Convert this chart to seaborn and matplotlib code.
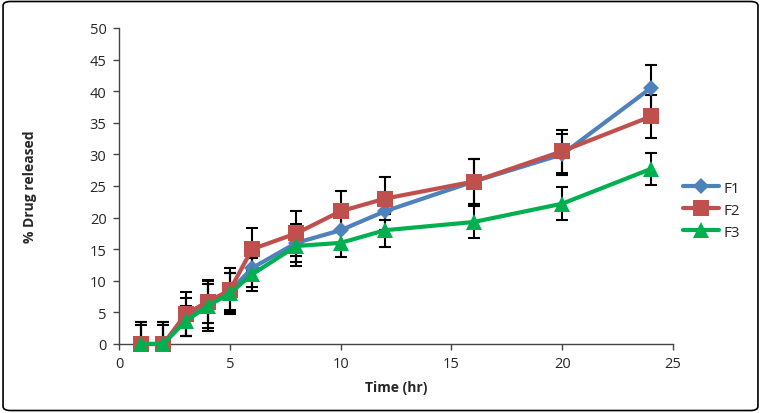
import matplotlib
matplotlib.use("Agg")
import matplotlib.pyplot as plt
import seaborn as sns
import pandas as pd
from matplotlib.patches import FancyBboxPatch

time_hr = [1, 2, 3, 4, 5, 6, 8, 10, 12, 16, 20, 24]
f1 = [0, 0, 4.3, 6.0, 8.3, 12.0, 16.0, 18.0, 21.0, 25.7, 30.0, 40.5]
f2 = [0, 0, 4.7, 6.7, 8.5, 15.0, 17.5, 21.0, 23.0, 25.7, 30.5, 36.0]
f3 = [0, 0, 3.6, 6.0, 8.0, 11.0, 15.5, 16.0, 18.0, 19.3, 22.2, 27.7]
f1_err = [3.5, 3.5, 3.0, 3.5, 3.0, 3.0, 3.0, 3.0, 3.0, 3.6, 3.3, 3.7]
f2_err = [3.5, 3.5, 3.5, 3.4, 3.5, 3.4, 3.5, 3.2, 3.4, 3.6, 3.4, 3.4]
f3_err = [3.0, 3.0, 2.4, 3.9, 3.3, 2.6, 3.2, 2.2, 2.6, 2.5, 2.6, 2.5]
series = ["F1", "F2", "F3"]
colors = {"F1": "#4F81BD", "F2": "#C0504D", "F3": "#00B050"}
markers = {"F1": "D", "F2": "s", "F3": "^"}
msize = {"F1": 8, "F2": 11, "F3": 11}

df = pd.DataFrame({
    "Time": time_hr * 3,
    "Release": f1 + f2 + f3,
    "Err": f1_err + f2_err + f3_err,
    "Series": sum([[s] * len(time_hr) for s in series], []),
})

sns.set_style("white")
plt.rcParams["font.family"] = ["Open Sans", "DejaVu Sans"]

fig = plt.figure(figsize=(7.61, 4.14), dpi=100)
ax = fig.add_axes([0.1564, 0.1667, 0.8844 - 0.1564, 0.930 - 0.1667])

for s in series:
    d = df[df.Series == s]
    ax.errorbar(d.Time, d.Release, yerr=d.Err, fmt="none", ecolor="black",
                elinewidth=1.5, capsize=4, capthick=1.5, zorder=2)

for s in series:
    d = df[df.Series == s]
    sns.lineplot(data=d, x="Time", y="Release", ax=ax, color=colors[s],
                 marker=markers[s], markersize=msize[s], markeredgewidth=0,
                 linewidth=3, label=s, zorder=3, clip_on=False)

ax.set_xlim(0, 25)
ax.set_ylim(0, 50)
ax.set_xticks(range(0, 26, 5))
ax.set_yticks(range(0, 51, 5))
ax.tick_params(axis="both", labelsize=10.5, direction="out", length=4, width=1,
               color="#444444", pad=5, left=True, bottom=True)
for sp in ["top", "right"]:
    ax.spines[sp].set_visible(False)
for sp in ["left", "bottom"]:
    ax.spines[sp].set_color("#444444")
    ax.spines[sp].set_linewidth(1)
ax.set_xlabel("Time (hr)", fontsize=10, fontweight="bold", labelpad=6)
ax.set_ylabel("% Drug released", fontsize=10, fontweight="bold", labelpad=38)

leg = ax.legend(loc="center left", bbox_to_anchor=(0.897, 0.49),
                bbox_transform=fig.transFigure, frameon=False, fontsize=11,
                handlelength=2.4, handletextpad=0.25, labelspacing=0.45,
                borderaxespad=0, borderpad=0)

border = FancyBboxPatch((0.004, 0.006), 0.992, 0.988, boxstyle="round,pad=0,rounding_size=0.01",
                        transform=fig.transFigure, fill=False, edgecolor="black",
                        linewidth=1.2)
fig.patches.append(border)

fig.savefig("out.png", dpi=100)
